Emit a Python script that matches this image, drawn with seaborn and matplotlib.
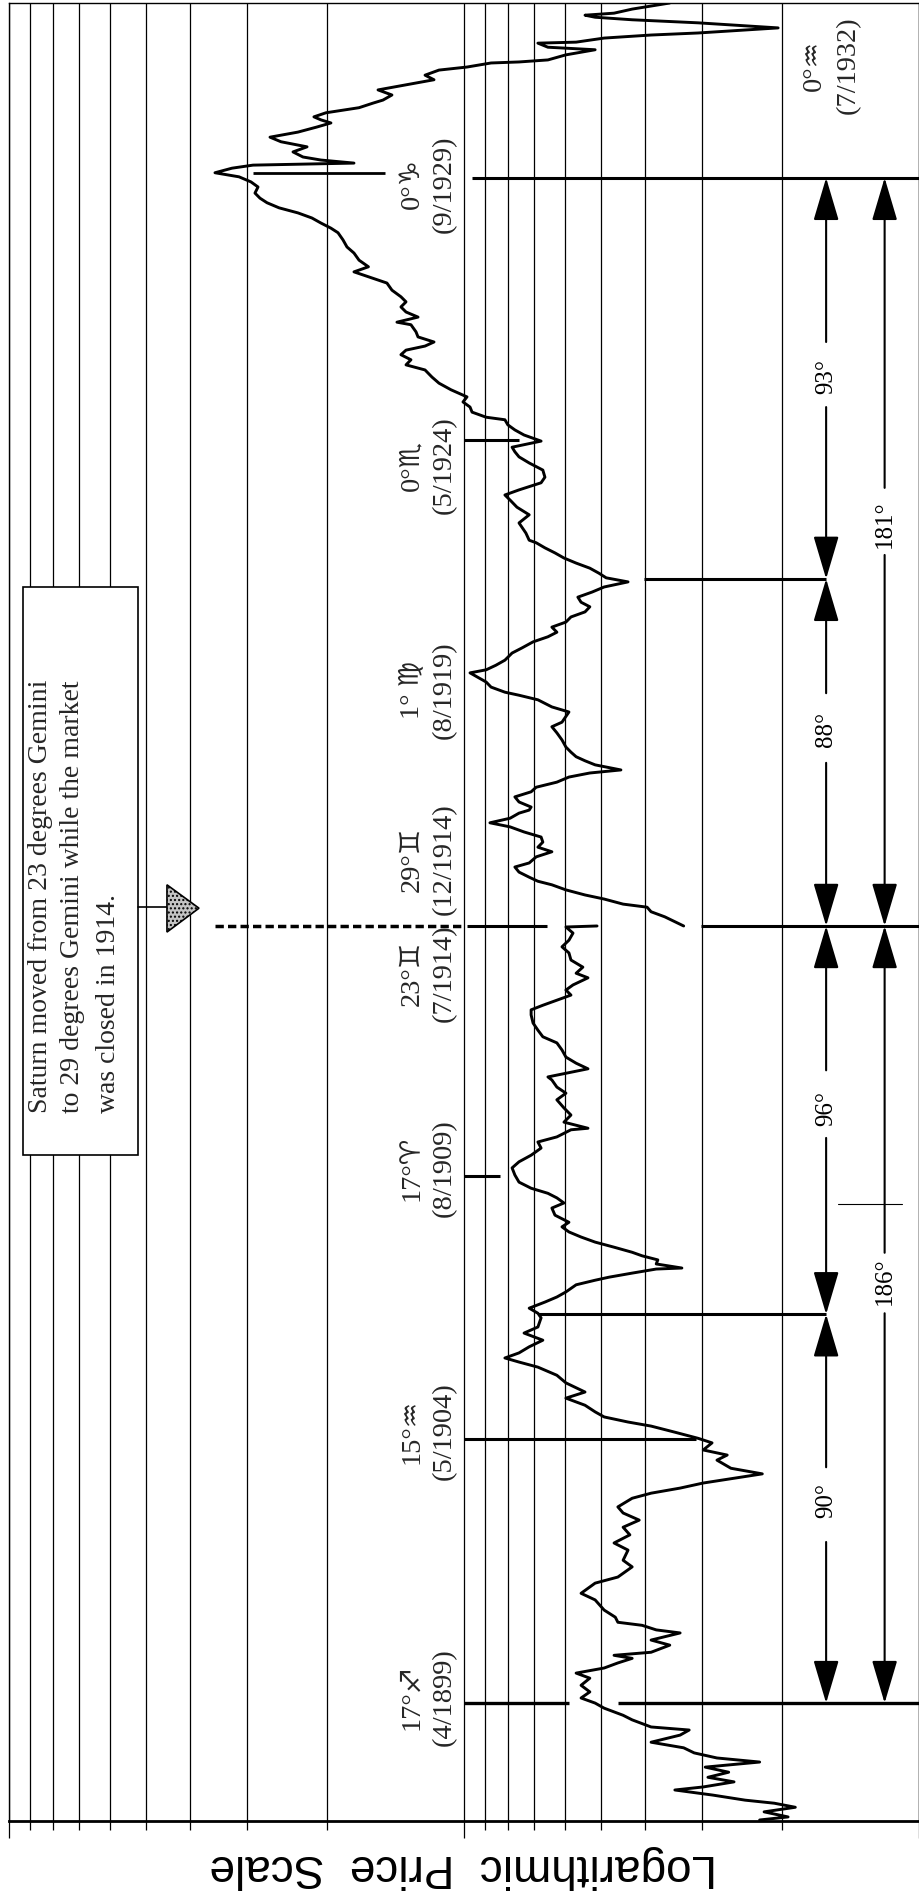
import numpy as np
import pandas as pd
import matplotlib
matplotlib.use("Agg")
import matplotlib.pyplot as plt
from matplotlib.ticker import NullFormatter
from matplotlib.patches import Rectangle, Polygon
import seaborn as sns

sns.set_theme(style="white")
plt.rcParams["font.family"] = ["Liberation Serif", "DejaVu Sans"]

# ---------------- data (fractional year, index level on log scale) ----------------
date_pre = [1896.99, 1897.05, 1897.15, 1897.24, 1897.32, 1897.38, 1897.48, 1897.58, 1897.64, 1897.74,
            1897.83, 1897.93, 1898.03, 1898.13, 1898.21, 1898.31, 1898.41, 1898.52, 1898.66, 1898.76,
            1898.82, 1898.96, 1899.05, 1899.19, 1899.29, 1899.39, 1899.51, 1899.64, 1899.78, 1899.88,
            1899.98, 1900.08, 1900.17, 1900.23, 1900.29, 1900.43, 1900.53, 1900.67, 1900.73, 1900.82,
            1900.88, 1900.98, 1901.12, 1901.32, 1901.45, 1901.65, 1901.77, 1901.97, 1902.10, 1902.30,
            1902.44, 1902.60, 1902.75, 1902.89, 1903.03, 1903.15, 1903.32, 1903.42, 1903.52, 1903.62,
            1903.72, 1903.80, 1903.91, 1904.07, 1904.17, 1904.27, 1904.41, 1904.50, 1904.62, 1904.74,
            1904.82, 1904.92, 1905.02, 1905.15, 1905.29, 1905.41, 1905.59, 1905.74, 1905.90, 1906.00,
            1906.08, 1906.18, 1906.30, 1906.43, 1906.57, 1906.69, 1906.87, 1906.96, 1907.06, 1907.18,
            1907.28, 1907.38, 1907.52, 1907.61, 1907.67, 1907.75, 1907.83, 1907.85, 1907.93, 1908.01,
            1908.09, 1908.16, 1908.26, 1908.36, 1908.46, 1908.56, 1908.66, 1908.75, 1908.89, 1909.03,
            1909.13, 1909.23, 1909.32, 1909.42, 1909.54, 1909.68, 1909.82, 1909.94, 1910.07, 1910.21,
            1910.33, 1910.43, 1910.57, 1910.60, 1910.72, 1910.86, 1911.00, 1911.16, 1911.29, 1911.41,
            1911.55, 1911.61, 1911.77, 1911.88, 1912.00, 1912.14, 1912.28, 1912.40, 1912.53, 1912.67,
            1912.83, 1912.93, 1913.02, 1913.12, 1913.22, 1913.32, 1913.42, 1913.56, 1913.65, 1913.77,
            1913.91, 1914.05, 1914.17, 1914.30, 1914.44, 1914.56, 1914.58]
price_pre = [22.4, 19.4, 21.9, 18.7, 20.8, 24.1, 28.4, 34.4, 29.8, 25.5,
             29.1, 26.2, 29.5, 22.4, 27.8, 31.2, 32.9, 38.8, 33.5, 32.0,
             38.8, 42.7, 44.7, 49.2, 51.5, 55.3, 52.9, 55.3, 52.9, 56.7,
             49.2, 45.9, 42.7, 46.8, 38.8, 35.3, 38.8, 33.5, 37.8, 40.6,
             45.9, 46.5, 49.2, 51.5, 55.3, 51.5, 45.9, 42.7, 44.7, 43.6,
             46.8, 43.2, 44.7, 41.2, 44.7, 45.9, 42.7, 38.8, 33.5, 29.8,
             25.2, 22.1, 25.9, 27.8, 26.4, 29.8, 28.5, 30.6, 34.4, 38.8,
             43.6, 49.2, 51.5, 54.2, 59.7, 54.2, 59.7, 62.5, 68.8, 75.7,
             81.3, 75.7, 71.9, 67.1, 73.8, 68.8, 67.7, 68.8, 71.9, 66.4,
             62.5, 59.7, 56.7, 51.5, 48.0, 42.7, 37.8, 33.2, 37.8, 37.5,
             40.6, 42.7, 46.8, 51.5, 55.3, 58.8, 60.9, 58.8, 63.1, 64.1,
             60.3, 62.5, 65.4, 71.2, 75.7, 77.3, 78.4, 75.7, 71.2, 67.7,
             68.8, 62.5, 58.2, 53.4, 60.3, 58.2, 60.3, 62.5, 59.7, 62.5,
             64.1, 65.4, 53.4, 56.7, 59.7, 60.9, 62.5, 67.1, 68.8, 70.5,
             71.2, 71.2, 67.1, 62.5, 58.2, 59.7, 57.6, 53.4, 56.7, 54.8,
             58.2, 58.8, 60.9, 58.8, 57.6, 59.7, 51.0]

date_post = [1914.95, 1915.13, 1915.23, 1915.32, 1915.38, 1915.48, 1915.56, 1915.66, 1915.76, 1915.83,
             1915.91, 1916.01, 1916.11, 1916.19, 1916.31, 1916.41, 1916.50, 1916.60, 1916.70, 1916.80,
             1916.90, 1916.98, 1917.07, 1917.17, 1917.23, 1917.29, 1917.39, 1917.49, 1917.59, 1917.68,
             1917.78, 1917.88, 1917.96, 1918.02, 1918.12, 1918.20, 1918.28, 1918.37, 1918.47, 1918.61,
             1918.75, 1918.87, 1918.96, 1919.16, 1919.26, 1919.40, 1919.49, 1919.55, 1919.65, 1919.75,
             1919.93, 1919.99, 1920.08, 1920.18, 1920.32, 1920.42, 1920.54, 1920.64, 1920.73, 1920.83,
             1920.93, 1921.03, 1921.13, 1921.23, 1921.32, 1921.42, 1921.52, 1921.62, 1921.72, 1921.80,
             1921.89, 1921.99, 1922.09, 1922.19, 1922.29, 1922.39, 1922.49, 1922.54, 1922.68, 1922.88,
             1923.04, 1923.19, 1923.33, 1923.43, 1923.53, 1923.67, 1923.78, 1923.92, 1924.06, 1924.18,
             1924.28, 1924.37, 1924.49, 1924.61, 1924.71, 1924.81, 1924.91, 1924.96, 1925.06, 1925.16,
             1925.26, 1925.36, 1925.50, 1925.63, 1925.75, 1925.89, 1925.99, 1926.09, 1926.19, 1926.28,
             1926.36, 1926.44, 1926.54, 1926.64, 1926.78, 1926.83, 1926.93, 1927.03, 1927.13, 1927.23,
             1927.33, 1927.46, 1927.60, 1927.72, 1927.82, 1927.92, 1928.05, 1928.19, 1928.31, 1928.45,
             1928.59, 1928.68, 1928.78, 1928.88, 1928.98, 1929.08, 1929.18, 1929.27, 1929.37, 1929.49,
             1929.59, 1929.69, 1929.77, 1929.86, 1929.92, 1929.96, 1930.02, 1930.08, 1930.18, 1930.28,
             1930.38, 1930.47, 1930.57, 1930.67, 1930.75, 1930.81, 1930.87, 1930.95, 1931.05, 1931.14,
             1931.20, 1931.30, 1931.40, 1931.50, 1931.60, 1931.69, 1931.79, 1931.85, 1931.93, 1931.95,
             1931.99, 1932.09, 1932.19, 1932.24, 1932.32, 1932.34, 1932.42, 1932.48, 1932.52, 1932.58,
             1932.62, 1932.72, 1932.78, 1932.83, 1932.87, 1932.91, 1932.99, 1933.05, 1933.11, 1933.15,
             1933.17]
price_post = [32.9, 36.2, 38.8, 39.6, 44.7, 49.2, 54.2, 59.7, 64.1, 68.8,
              71.9, 75.7, 77.3, 71.9, 69.4, 64.1, 68.8, 67.1, 67.7, 73.8,
              79.2, 87.7, 79.2, 75.7, 71.9, 71.2, 75.7, 77.3, 71.2, 69.4,
              62.5, 58.8, 52.9, 45.2, 51.5, 54.2, 56.7, 58.2, 59.7, 60.9,
              62.5, 64.1, 60.9, 58.8, 64.1, 68.8, 75.7, 81.3, 87.2, 89.4,
              97.0, 89.4, 85.1, 81.3, 78.4, 74.6, 70.5, 65.4, 62.5, 64.1,
              59.7, 58.2, 54.2, 52.9, 55.3, 56.2, 52.3, 49.2, 43.6, 48.7,
              50.5, 52.9, 56.7, 60.3, 63.1, 66.4, 69.4, 71.9, 73.1, 75.7,
              71.9, 76.5, 79.2, 81.3, 75.7, 67.7, 66.4, 67.1, 71.9, 75.7,
              77.3, 78.4, 67.7, 73.8, 77.3, 80.1, 81.3, 89.4, 96.0, 97.0,
              100.5, 98.5, 106.8, 113.5, 117.6, 121.8, 134.1, 130.8, 137.6, 134.1,
              121.8, 116.4, 126.2, 127.5, 130.8, 140.4, 126.2, 134.1, 137.6, 134.1,
              137.6, 144.0, 147.7, 161.8, 174.5, 162.2, 170.1, 174.5, 180.8, 184.5,
              189.2, 196.1, 206.2, 215.9, 231.7, 255.0, 271.0, 280.8, 288.0, 283.6,
              293.9, 312.2, 352.6, 323.5, 290.9, 174.5, 206.2, 225.9, 237.6, 221.3,
              252.5, 266.9, 231.7, 210.5, 196.1, 206.2, 213.7, 201.1, 170.1, 158.5,
              150.7, 144.0, 154.5, 134.1, 116.4, 121.8, 113.5, 98.5, 87.2, 75.7,
              65.4, 59.7, 51.5, 65.4, 68.8, 56.7, 49.2, 38.8, 30.6, 24.1,
              20.4, 30.6, 42.7, 51.5, 54.2, 46.8, 42.7, 38.8, 35.3, 39.6,
              41.7]

# Saturn ingress / turning-point annotations
label_dates = [1899.41, 1904.64, 1909.82, 1913.65, 1916.27, 1919.59, 1924.02, 1929.55]
label_signs = ["17°♐", "15°♒", "17°♈", "23°♊", "29°♊", "1° ♍", "0°♏", "0°♑"]
label_months = ["(4/1899)", "(5/1904)", "(8/1909)", "(7/1914)", "(12/1914)", "(8/1919)", "(5/1924)", "(9/1929)"]
last_label = (1931.89, "0°♒", "(7/1932)")

# marker lines: (date, price from, price to, width)
marker_lines = [(1899.29, 100, 58.8, 2.4), (1899.29, 45.9, 10, 2.4),
                (1904.48, 100, 30.9, 2.2), (1906.94, 68.8, 16.0, 2.2),
                (1909.66, 100, 83.3, 2.2), (1914.58, 98.5, 65.7, 2.2),
                (1914.58, 30.1, 10, 2.2), (1921.78, 40.2, 16.0, 2.2),
                (1924.51, 100, 75.7, 2.2), (1929.77, 290.9, 149.2, 2.0),
                (1929.67, 96, 10, 2.2)]

# degree-span arrows: (column price, tail date, tip date)
arrows = [(16.0, 1902.46, 1899.29), (16.0, 1903.93, 1906.94), (16.0, 1910.41, 1906.94),
          (16.0, 1911.74, 1914.58), (16.0, 1918.16, 1914.58), (16.0, 1919.53, 1921.78),
          (16.0, 1925.16, 1921.78), (16.0, 1926.44, 1929.67),
          (11.9, 1906.96, 1899.29), (11.9, 1908.15, 1914.58),
          (11.9, 1922.25, 1914.58), (11.9, 1923.57, 1929.67)]
span_labels = [(16.0, 1903.28, "90°"), (16.0, 1910.98, "96°"), (16.0, 1918.81, "88°"),
               (16.0, 1925.77, "93°"), (11.9, 1907.59, "186°"), (11.9, 1922.86, "181°")]

CLOSE_START, CLOSE_END = 1914.58, 1914.95   # NYSE closed Aug-Dec 1914
GAP = CLOSE_END - CLOSE_START


def tp(t):
    """trading-time axis: the 1914 closure is collapsed"""
    t = np.asarray(t, dtype=float)
    return np.where(t >= CLOSE_END, t - GAP, t)


df = pd.concat([
    pd.DataFrame({"date": date_pre, "price": price_pre, "segment": 0}),
    pd.DataFrame({"date": date_post, "price": price_post, "segment": 1}),
], ignore_index=True)
df["t"] = tp(df["date"])

W, H = 919, 1897
fig = plt.figure(figsize=(W / 100, H / 100), dpi=100, facecolor="white")
ax = fig.add_axes([9 / W, 76 / H, 910 / W, 1818 / H])

sns.lineplot(data=df, x="price", y="t", units="segment", estimator=None, sort=False,
             color="black", lw=2.1, ax=ax, legend=False, zorder=5)

ax.set_xscale("log")
ax.set_xlim(1000, 10)
ax.set_ylim(1896.97, 1932.74)
ax.set_xlabel("")
ax.set_ylabel("")
major = [10, 100, 1000]
minor = [m * d for d in (10, 100) for m in range(2, 10)]
ax.set_xticks(major)
ax.set_xticks(minor, minor=True)
ax.xaxis.set_major_formatter(NullFormatter())
ax.xaxis.set_minor_formatter(NullFormatter())
ax.set_yticks([])
ax.grid(True, which="both", axis="x", color="black", lw=0.9)
ax.grid(False, axis="y")
ax.tick_params(axis="x", which="major", direction="out", length=12, width=0.9,
               bottom=True, top=False, color="black")
ax.tick_params(axis="x", which="minor", direction="out", length=6.5, width=0.9,
               bottom=True, top=False, color="black")
for side, s in ax.spines.items():
    s.set_color("black")
    s.set_linewidth(1.0)
ax.spines["bottom"].set_linewidth(2.0)

# marker lines
for t, p1, p2, lw in marker_lines:
    ax.plot([p1, p2], [tp(t), tp(t)], color="black", lw=lw, solid_capstyle="butt", zorder=4)
# dotted line for the 1914 closure
ax.plot([352.6, 100.5], [CLOSE_START, CLOSE_START], color="black", lw=2.5,
        linestyle=(0, (2.4, 1.2)), zorder=4)
# small cross mark on the right column
ax.plot([15.1, 10.9], [1909.11, 1909.11], color="black", lw=0.8, zorder=4)

# arrows
for p, t0, t1 in arrows:
    ax.annotate("", xy=(p, float(tp(t1))), xytext=(p, float(tp(t0))),
                arrowprops=dict(arrowstyle="-|>,head_length=2.7,head_width=0.8",
                                mutation_scale=10, lw=1.5, color="black",
                                shrinkA=0, shrinkB=0), zorder=4)
for p, t, s in span_labels:
    ax.text(p, float(tp(t)), s, rotation=90, ha="center", va="center",
            fontsize=18, color="black", zorder=6)

# date / sign labels
X1, X2 = 130.1, 110.7
for t, s1, s2 in zip(label_dates, label_signs, label_months):
    ax.text(X1, float(tp(t)), s1, rotation=90, ha="center", va="center", fontsize=20.5, zorder=6)
    ax.text(X2, float(tp(t)), s2, rotation=90, ha="center", va="center", fontsize=20.5, zorder=6)
t, s1, s2 = last_label
ax.text(17.0, float(tp(t)), s1, rotation=90, ha="center", va="center", fontsize=20.5, zorder=6)
ax.text(14.3, float(tp(t)), s2, rotation=90, ha="center", va="center", fontsize=20.5, zorder=6)

# Saturn note box
y0 = float(tp(1910.07))
y1 = float(tp(1921.62))
ax.add_patch(Rectangle((520.6, y0), 931.7 - 520.6, y1 - y0, facecolor="white",
                       edgecolor="black", lw=1.2, zorder=3))
note = ["Saturn moved from 23 degrees Gemini",
        "to 29 degrees Gemini while the market",
        "was closed in 1914."]
for p, s in zip([850.6, 723.4, 605.9], note):
    ax.text(p, 1910.90, s, rotation=90, rotation_mode="anchor", ha="left", va="center",
            fontsize=20, zorder=6)
# pointer
ty = float(tp(1915.32))
ax.plot([520.6, 449.6], [ty, ty], color="black", lw=1.2, zorder=4)
tri = Polygon([(449.6, float(tp(1915.76))), (449.6, 1914.46), (382.3, float(tp(1915.30)))],
              closed=True, facecolor="#c4c4c4", edgecolor="black", lw=1.2, hatch="....", zorder=4)
ax.add_patch(tri)

fig.text(463 / W, 1 - 1867 / H, "Logarithmic  Price  Scale", rotation=180,
         ha="center", va="center", fontsize=33, family="Liberation Sans", color="black")

fig.savefig("out.png", dpi=100, facecolor="white")
